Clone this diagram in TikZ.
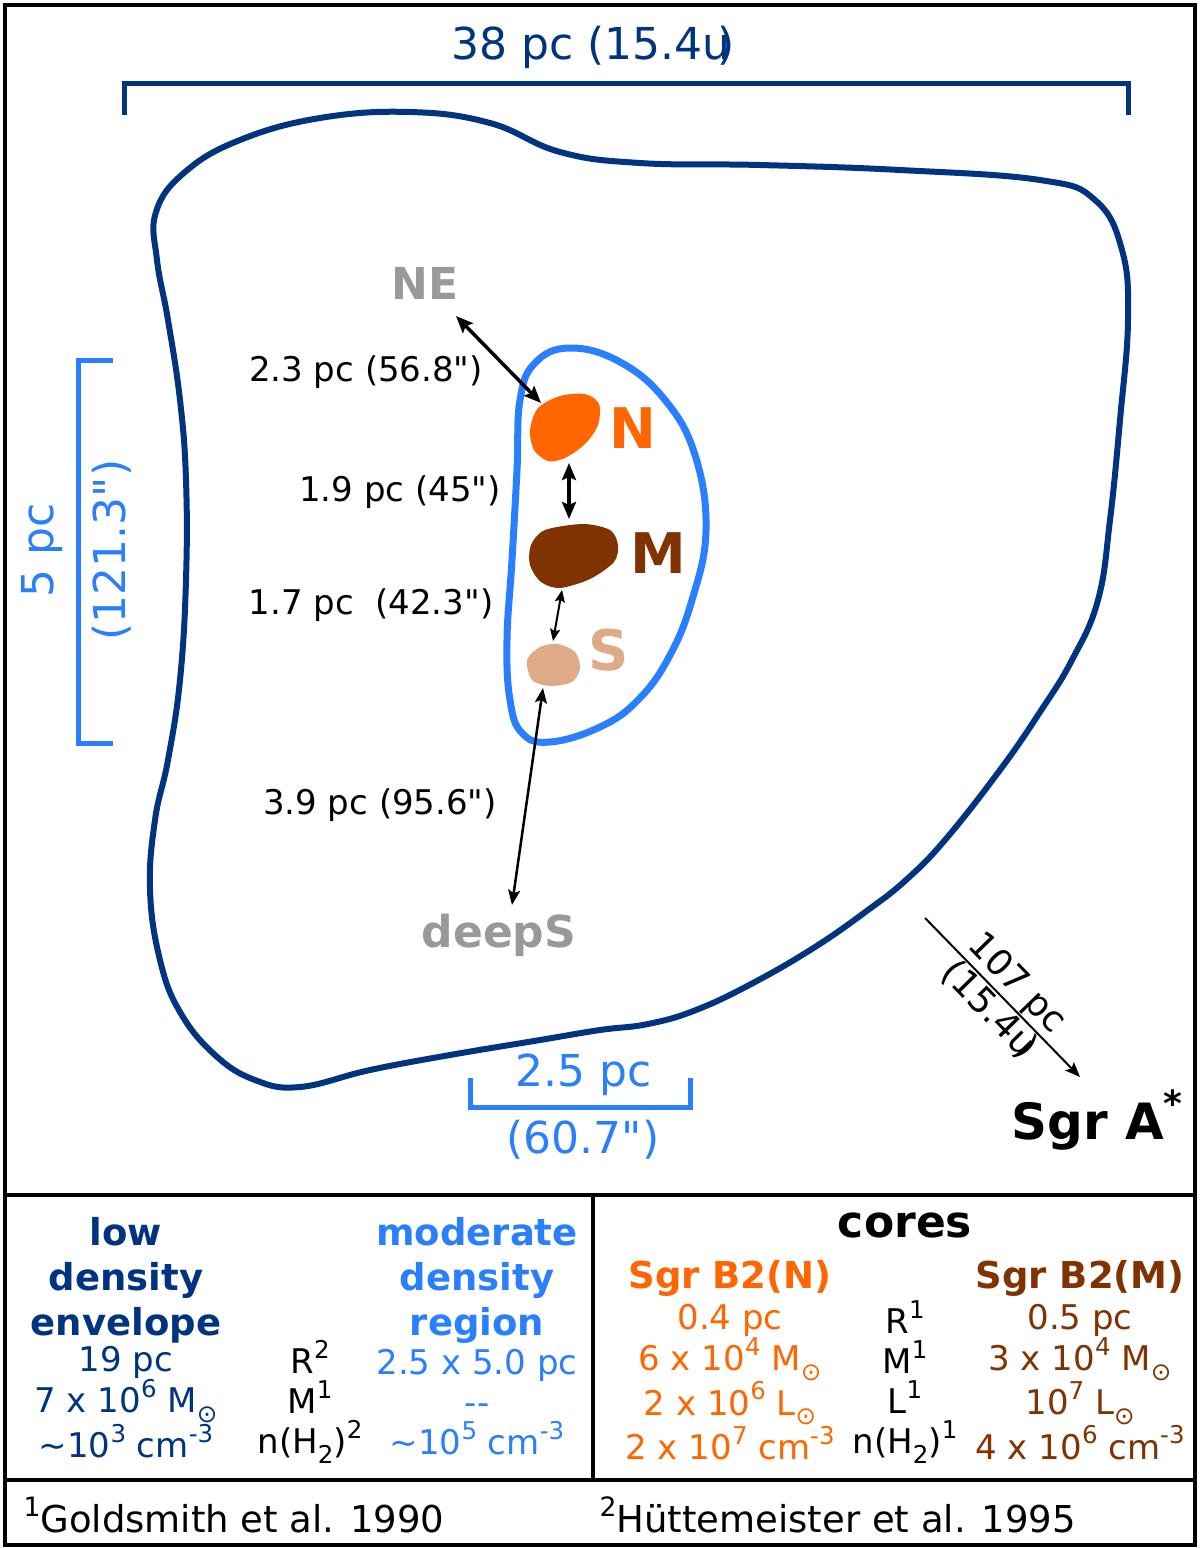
\documentclass[tikz,border=0pt]{standalone}
\usepackage{fontspec}
\setmainfont{DejaVu Sans}[Ligatures=TeXOff]
\usetikzlibrary{arrows, arrows.meta}
\definecolor{envblue}{HTML}{003380}
\definecolor{modblue}{HTML}{2A7FFF}
\definecolor{coreN}{HTML}{FF6600}
\definecolor{coreM}{HTML}{803300}
\definecolor{coreS}{HTML}{DEAA87}
\definecolor{faint}{HTML}{999999}
\newcommand{\up}[1]{\raisebox{.45em}{\scalebox{.72}{#1}}}
\newcommand{\dn}[1]{\raisebox{-.28em}{\scalebox{.72}{#1}}}
\tikzstyle{frame} = [line width=4.5pt, draw=black]
\tikzstyle{scalebar} = [line width=5pt]
\tikzstyle{big} = [font=\fontsize{44}{52}\selectfont]
\tikzstyle{dist} = [font=\fontsize{34}{40}\selectfont, text=black]
\tikzstyle{corename} = [font=\bfseries\fontsize{56}{60}\selectfont]
\tikzstyle{farname} = [font=\bfseries\fontsize{44}{52}\selectfont, text=faint]
\tikzstyle{head} = [align=center, font=\bfseries\fontsize{37}{45}\selectfont]
\tikzstyle{vals} = [align=center, font=\fontsize{34}{40}\selectfont]
\tikzstyle{foot} = [anchor=west, font=\fontsize{37}{40}\selectfont]
\tikzstyle{arrow} = [<->, >={Stealth[length=17pt, width=14pt, inset=3pt]}]

\begin{document}
\begin{tikzpicture}[x=1pt, y=-1pt]
\useasboundingbox (0,0) rectangle (1200,1548);

\draw [frame] (5,5) rectangle (1195,1195);
\draw [frame] (5,1195) rectangle (593,1480);
\draw [frame] (593,1195) rectangle (1195,1480);
\draw [frame] (5,1480) rectangle (1195,1545);

% low density envelope
\draw [envblue, line width=6pt] plot [smooth cycle, tension=0.7] coordinates {
  (156,212) (185,172) (240,140) (320,118) (410,112) (490,123) (560,152)
  (640,163) (760,165) (900,170) (1040,180) (1095,200) (1122,250) (1128,320)
  (1120,420) (1110,520) (1098,600) (1072,660) (1040,712) (1000,770)
  (945,840) (906,880) (868,910) (815,947) (753,983) (696,1010) (648,1024)
  (600,1030) (540,1040) (450,1055)
  (370,1070) (300,1087) (255,1080) (215,1055) (180,1012) (160,960)
  (150,890) (155,820) (168,760) (180,680) (186,580) (186,480) (180,400)
  (168,320) (157,260)};

% moderate density region
\draw [modblue, line width=7pt] plot [smooth cycle, tension=0.7] coordinates {
  (570,348) (620,362) (665,400) (695,455) (706,530) (692,600) (669,657)
  (638,700) (600,727) (550,742) (522,733) (510,700) (507,640) (512,560)
  (517,470) (520,400) (535,363)};

% cores
\fill [coreN] plot [smooth cycle] coordinates {(530,430) (538,408) (560,396)
  (585,394) (599,404) (598,425) (585,444) (565,458) (548,461) (534,450)};
\fill [coreM] plot [smooth cycle] coordinates {(531,545) (545,530) (583,524)
  (610,530) (618,545) (614,562) (590,579) (560,588) (541,582) (530,565)};
\fill [coreS] plot [smooth cycle] coordinates {(527,660) (540,647) (558,644)
  (575,652) (580,668) (572,682) (550,686) (532,680)};

\node at (633,428) (N) [corename, text=coreN] {N};
\node at (658,553) (M) [corename, text=coreM] {M};
\node at (609,650) (S) [corename, text=coreS] {S};
\node at (425,283) (NE) [farname] {NE};
\node at (499,935) (deepS) [farname] {deepS};
\node at (1097,1120) (sgra) [font=\bfseries\fontsize{50}{56}\selectfont] {Sgr A\up{*}};

% distances
\coordinate (ne-end) at (456,316);
\coordinate (n-top) at (541,403);
\coordinate (n-bot) at (569,463);
\coordinate (m-top) at (569,519);
\coordinate (m-bot) at (562,590);
\coordinate (s-top) at (553,641);
\coordinate (s-bot) at (543,688);
\coordinate (deep-end) at (512,905);
\coordinate (sgr-from) at (925,918);
\coordinate (sgr-to) at (1080,1077);

\draw [arrow, line width=3.5pt] (ne-end) -- (n-top);
\draw [arrow, line width=4.5pt] (n-bot) -- (m-top);
\draw [arrow, line width=2pt, >={Stealth[length=12pt, width=10pt, inset=2pt]}] (m-bot) -- (s-top);
\draw [arrow, line width=2.5pt, >={Stealth[length=15pt, width=12pt, inset=3pt]}] (s-bot) -- (deep-end);
\draw [-{Stealth[length=15pt, width=12pt, inset=3pt]}, line width=2pt] (sgr-from) -- (sgr-to)
  node [midway, above, sloped, inner sep=1pt, font=\fontsize{36}{40}\selectfont] {107 pc}
  node [midway, below, sloped, inner sep=1pt, font=\fontsize{36}{40}\selectfont] {(15.4u\kern-.3em)};

\node at (366,372) (d-ne) [dist] {2.3 pc (56.8")};
\node at (400,492) (d-nm) [dist] {1.9 pc (45")};
\node at (371,605) (d-ms) [dist] {1.7 pc \ (42.3")};
\node at (380,805) (d-sd) [dist] {3.9 pc (95.6")};

% scale bars
\draw [scalebar, envblue] (124,115) -- (124,83) -- (1128,83) -- (1128,115);
\node at (593,47) (envsize) [big, text=envblue] {38 pc (15.4u\kern-.3em)};
\draw [scalebar, modblue] (113,360) -- (78,360) -- (78,743) -- (113,743);
\node at (42,550) (modlen) [big, text=modblue, rotate=90] {5 pc};
\node at (112,550) (modlen-as) [big, text=modblue, rotate=90] {(121.3")};
\draw [scalebar, modblue] (470,1078) -- (470,1107) -- (690,1107) -- (690,1078);
\node at (584,1075) (modwid) [big, text=modblue] {2.5 pc};
\node at (583,1140) (modwid-as) [big, text=modblue] {(60.7")};

% table
\node at (126,1280) (envhead) [head, text=envblue] {low\\density\\envelope};
\node at (126,1402) (envvals) [vals, text=envblue] {19 pc\\7 x 10\up{6} M\dn{⊙}\\\textasciitilde10\up{3} cm\up{-3}};
\node at (310,1402) (envprops) [vals] {R\up{2}\\M\up{1}\\n(H\dn{2})\up{2}};
\node at (477,1280) (modhead) [head, text=modblue] {moderate\\density\\region};
\node at (477,1402) (modvals) [vals, text=modblue] {2.5 x 5.0 pc\\--\\\textasciitilde10\up{5} cm\up{-3}};

\node at (905,1225) (cores) [font=\bfseries\fontsize{44}{50}\selectfont] {cores};
\node at (730,1278) (nhead) [head, text=coreN] {Sgr B2(N)};
\node at (1080,1278) (mhead) [head, text=coreM] {Sgr B2(M)};
\node at (730,1382) (nvals) [vals, text=coreN] {0.4 pc\\6 x 10\up{4} M\dn{⊙}\\2 x 10\up{6} L\dn{⊙}\\2 x 10\up{7} cm\up{-3}};
\node at (905,1382) (coreprops) [vals] {R\up{1}\\M\up{1}\\L\up{1}\\n(H\dn{2})\up{1}};
\node at (1080,1382) (mvals) [vals, text=coreM] {0.5 pc\\3 x 10\up{4} M\dn{⊙}\\10\up{7} L\dn{⊙}\\4 x 10\up{6} cm\up{-3}};

\node at (20,1515) (ref1) [foot] {\up{1}Goldsmith et al. 1990};
\node at (596,1515) (ref2) [foot] {\up{2}Hüttemeister et al. 1995};

\end{tikzpicture}
\end{document}
